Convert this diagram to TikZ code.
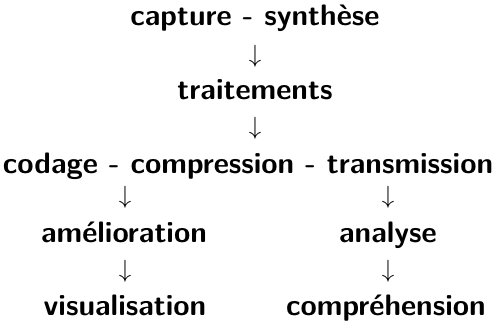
\documentclass[tikz,border=0pt]{standalone}
\begin{document}
\begin{tikzpicture}[x=1pt,y=-1pt,
  lbl/.style={inner sep=0pt,anchor=base,font=\fontsize{29.6}{34}\selectfont\sffamily\bfseries},
  arr/.style={inner sep=0pt,font=\fontsize{31}{36}\selectfont}]
\useasboundingbox (0,0) rectangle (496,321);
\node[lbl] (cap) at (255,26) {capture - synthèse};
\node[arr] (a1) at (255,56) {$\downarrow$};
\node[lbl] (tra) at (255,100) {traitements};
\node[arr] (a2) at (255,128.5) {$\downarrow$};
\node[lbl] (cod) at (248,173.3) {codage - compression - transmission};
\node[arr] (a3) at (125,197) {$\downarrow$};
\node[arr] (a4) at (388,197) {$\downarrow$};
\node[lbl] (ame) at (124,242.7) {amélioration};
\node[lbl] (ana) at (388,242.7) {analyse};
\node[arr] (a5) at (125,271) {$\downarrow$};
\node[arr] (a6) at (388,271) {$\downarrow$};
\node[lbl] (vis) at (125,315) {visualisation};
\node[lbl] (com) at (386,315) {compréhension};
\end{tikzpicture}
\end{document}
